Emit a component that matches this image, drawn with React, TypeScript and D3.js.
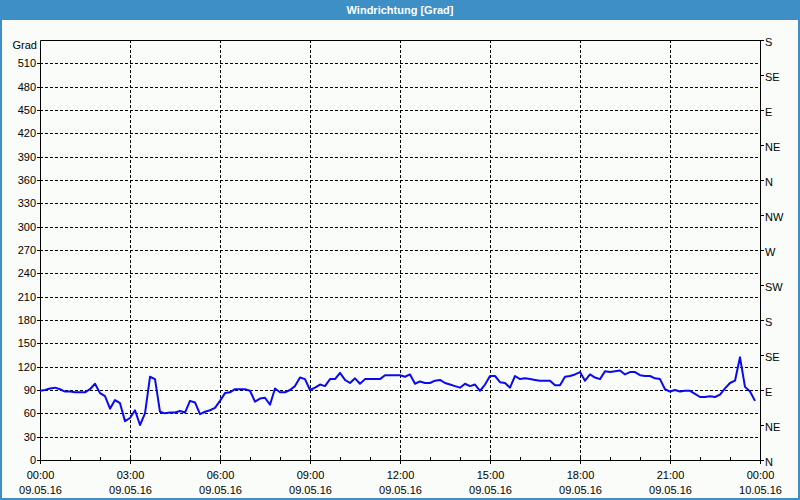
import React, { useEffect, useRef } from 'react';
import * as d3 from 'd3';

// wind direction in degrees, one reading every 10 minutes from 09.05.16 00:00
const directions: number[] = [
  89, 90, 92, 93, 91, 88, 88, 87, 87, 87, 91, 98, 86, 82, 66, 77, 73, 50, 54, 64,
  45, 60, 107, 104, 62, 60, 61, 61, 63, 61, 76, 74, 59, 62, 64, 67, 76, 86, 87, 91,
  91, 91, 89, 75, 79, 80, 71, 92, 87, 87, 90, 95, 106, 104, 90, 93, 97, 95, 104, 104,
  112, 103, 99, 105, 98, 104, 104, 104, 104, 109, 109, 109, 109, 107, 110, 98, 101, 99, 99, 102,
  103, 99, 97, 95, 93, 98, 95, 97, 89, 97, 108, 108, 100, 99, 93, 108, 104, 105, 104, 103,
  102, 102, 102, 96, 96, 107, 108, 110, 113, 102, 110, 106, 104, 114, 113, 114, 115, 110, 113, 113,
  109, 108, 108, 105, 104, 91, 88, 90, 88, 89, 89, 85, 81, 81, 82, 81, 84, 92, 99, 102,
  132, 94, 88, 76,
];
const yTicks: number[] = [0, 30, 60, 90, 120, 150, 180, 210, 240, 270, 300, 330, 360, 390, 420, 450, 480, 510];
const compassValues: number[] = [0, 45, 90, 135, 180, 225, 270, 315, 360, 405, 450, 495, 540];
const compassLabels: string[] = ['N', 'NE', 'E', 'SE', 'S', 'SW', 'W', 'NW', 'N', 'NE', 'E', 'SE', 'S'];
const startTime = new Date(2016, 4, 9, 0, 0);
const endTime = new Date(2016, 4, 10, 0, 0);
const title = 'Windrichtung [Grad]';
const unit = 'Grad';

const App = () => {
  const ref = useRef<HTMLDivElement>(null);

  useEffect(() => {
    const width = 800;
    const height = 500;
    const left = 40, right = 760, top = 40, bottom = 460;
    const font = '"Liberation Sans", Arial, sans-serif';

    const svg = d3
      .select(ref.current)
      .append('svg')
      .attr('width', width)
      .attr('height', height)
      .style('display', 'block')
      .style('font-family', font)
      .style('font-size', '11px');

    // background + frame + title bar
    svg.append('rect').attr('width', width).attr('height', height).attr('fill', '#fafcfa');
    svg.append('rect').attr('width', width).attr('height', 20).attr('fill', '#3d8fc6');
    svg.append('rect')
      .attr('x', 1).attr('y', 1).attr('width', width - 2).attr('height', height - 2)
      .attr('fill', 'none').attr('stroke', '#3d8fc6').attr('stroke-width', 2);
    svg.append('text')
      .attr('x', width / 2).attr('y', 14)
      .attr('text-anchor', 'middle')
      .attr('fill', '#ffffff')
      .attr('font-weight', 'bold')
      .text(title);

    const x = d3.scaleTime().domain([startTime, endTime]).range([left, right]);
    const y = d3.scaleLinear().domain([0, 540]).range([bottom, top]);

    const times = directions.map((_, i) => d3.timeMinute.offset(startTime, i * 10));
    const majorTimes = d3.timeHour.every(3)!.range(startTime, d3.timeMinute.offset(endTime, 1));
    const minorTimes = d3.timeHour.every(1)!.range(startTime, d3.timeMinute.offset(endTime, 1));

    // dashed grid
    const grid = svg.append('g').attr('stroke', '#000').attr('stroke-dasharray', '3,2');
    grid.selectAll('line.h')
      .data(yTicks.filter((d) => d > 0))
      .enter().append('line')
      .attr('x1', left).attr('x2', right)
      .attr('y1', (d) => Math.round(y(d)) + 0.5)
      .attr('y2', (d) => Math.round(y(d)) + 0.5);
    grid.selectAll('line.v')
      .data(majorTimes.filter((d) => +d > +startTime && +d < +endTime))
      .enter().append('line')
      .attr('y1', top).attr('y2', bottom)
      .attr('x1', (d) => Math.round(x(d)) + 0.5)
      .attr('x2', (d) => Math.round(x(d)) + 0.5);

    // frame of the plot
    const axes = svg.append('g').attr('stroke', '#000').attr('fill', 'none');
    axes.append('path').attr('d', `M${left + 0.5},${bottom + 0.5}V${top + 0.5}H${right + 0.5}V${bottom + 0.5}H${left + 0.5}`);

    // left ticks + labels
    yTicks.forEach((v) => {
      const py = Math.round(y(v)) + 0.5;
      axes.append('line').attr('x1', left - 3).attr('x2', left).attr('y1', py).attr('y2', py);
    });
    svg.append('g').selectAll('text')
      .data(yTicks)
      .enter().append('text')
      .attr('x', left - 4)
      .attr('y', (d) => y(d) + 4)
      .attr('text-anchor', 'end')
      .attr('fill', '#000')
      .text((d) => d);
    svg.append('text')
      .attr('x', left - 3).attr('y', 49)
      .attr('text-anchor', 'end')
      .attr('fill', '#000')
      .text(unit);

    // right compass axis
    compassValues.forEach((v) => {
      const py = Math.round(y(v)) + 0.5;
      axes.append('line').attr('x1', right).attr('x2', right + 4).attr('y1', py).attr('y2', py);
    });
    svg.append('g').selectAll('text')
      .data(compassValues)
      .enter().append('text')
      .attr('x', right + 5)
      .attr('y', (d) => y(d) + 6)
      .attr('fill', '#000')
      .text((d, i) => compassLabels[i]);

    // bottom ticks
    minorTimes.forEach((t) => {
      const px = Math.round(x(t)) + 0.5;
      axes.append('line').attr('x1', px).attr('x2', px).attr('y1', bottom - 3).attr('y2', bottom);
    });
    majorTimes.forEach((t) => {
      const px = Math.round(x(t)) + 0.5;
      axes.append('line').attr('x1', px).attr('x2', px).attr('y1', bottom).attr('y2', bottom + 4);
    });
    const fmtTime = d3.timeFormat('%H:%M');
    const fmtDate = d3.timeFormat('%d.%m.%y');
    const xl = svg.append('g').attr('fill', '#000').attr('text-anchor', 'middle');
    xl.selectAll('text.t')
      .data(majorTimes)
      .enter().append('text')
      .attr('x', (d) => x(d) + 0.5)
      .attr('y', 479)
      .text((d) => fmtTime(d));
    xl.selectAll('text.d')
      .data(majorTimes)
      .enter().append('text')
      .attr('x', (d) => x(d) + 0.5)
      .attr('y', 494)
      .text((d) => fmtDate(d));

    // the series
    const line = d3.line<number>()
      .x((d, i) => x(times[i]))
      .y((d) => y(d));
    svg.append('path')
      .datum(directions)
      .attr('d', line)
      .attr('fill', 'none')
      .attr('stroke', '#0a0af0')
      .attr('stroke-width', 2)
      .attr('stroke-linejoin', 'round');

    return () => {
      d3.select(ref.current).selectAll('*').remove();
    };
  }, []);

  return (
    <>
      <style>{'body{margin:0}'}</style>
      <div ref={ref}></div>
    </>
  );
};

export default App;
